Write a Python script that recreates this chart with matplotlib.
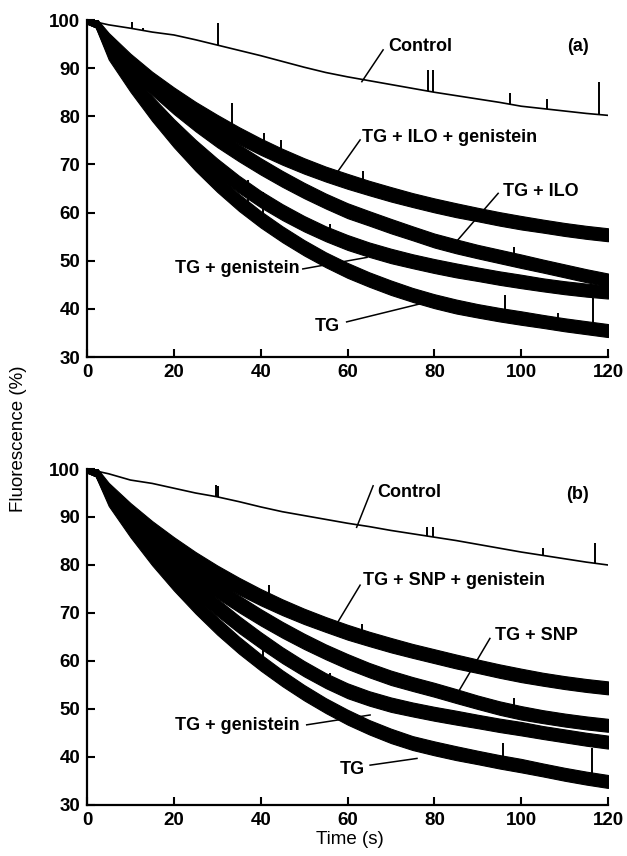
import numpy as np
import matplotlib
matplotlib.use("Agg")
import matplotlib.pyplot as plt

plt.rcParams["font.family"] = ["Liberation Sans", "DejaVu Sans"]

# time base (s) shared by every trace
t = [0, 2, 5, 10, 15, 20, 25, 30, 35, 40, 45, 50, 55, 60,
     65, 70, 75, 80, 85, 90, 95, 100, 105, 110, 115, 120]

# vertical thickness (%) of the noisy traces along t
band = [1.5, 2.0, 3.0, 3.4, 3.5, 3.6, 3.6, 3.6, 3.5, 3.4, 3.3, 3.2, 3.1, 3.1,
        3.0, 3.0, 2.9, 2.9, 2.9, 2.8, 2.8, 2.8, 2.7, 2.7, 2.7, 2.7]

# ---- panel (a) : fluorescence (%) ----
a_control = [100, 99.6, 99.0, 98.3, 97.5, 96.9, 95.9, 94.8, 93.7, 92.6, 91.4, 90.2, 89.1, 88.2,
             87.4, 86.6, 85.8, 85.0, 84.3, 83.6, 82.9, 82.1, 81.6, 81.1, 80.6, 80.2]
a_ilo_gen = [100, 99.5, 95.8, 91.3, 87.5, 84.2, 81.2, 78.5, 76.0, 73.7, 71.6, 69.7, 68.0, 66.5,
             65.1, 63.8, 62.6, 61.5, 60.5, 59.6, 58.7, 57.9, 57.2, 56.5, 55.9, 55.4]
a_ilo = [100, 99.5, 95.3, 90.5, 86.2, 82.3, 78.7, 75.4, 72.4, 69.6, 67.0, 64.6, 62.4, 60.4,
         58.8, 57.2, 55.7, 54.2, 53.0, 51.9, 50.9, 49.9, 48.9, 47.9, 46.9, 46.0]
a_gen = [100, 99.5, 93.8, 87.8, 82.4, 77.6, 73.3, 69.4, 65.9, 62.8, 60.1, 57.7, 55.6, 53.8,
         52.3, 51.0, 49.9, 48.9, 48.0, 47.2, 46.4, 45.7, 45.0, 44.4, 43.9, 43.5]
a_tg = [100, 99.5, 93.3, 86.8, 80.8, 75.4, 70.5, 66.1, 62.1, 58.6, 55.5, 52.7, 50.2, 48.0,
        46.1, 44.4, 42.9, 41.6, 40.5, 39.6, 38.8, 38.1, 37.4, 36.7, 36.1, 35.5]

# ---- panel (b) ----
b_control = [100, 99.6, 99.0, 97.7, 97.0, 96.0, 95.0, 94.2, 93.2, 92.1, 91.1, 90.3, 89.5, 88.7,
             88.0, 87.2, 86.5, 85.8, 85.1, 84.3, 83.5, 82.7, 82.0, 81.3, 80.6, 80.0]
b_snp_gen = [100, 99.5, 95.6, 91.2, 87.4, 84.0, 80.9, 78.1, 75.6, 73.3, 71.2, 69.3, 67.6, 66.0,
             64.6, 63.3, 62.1, 61.0, 59.9, 58.9, 57.9, 57.0, 56.2, 55.5, 54.9, 54.4]
b_snp = [100, 99.5, 95.0, 90.0, 85.7, 81.8, 78.2, 74.9, 71.9, 69.1, 66.5, 64.1, 61.9, 59.9,
         58.1, 56.5, 55.2, 54.0, 52.7, 51.4, 50.2, 49.2, 48.4, 47.7, 47.1, 46.6]
b_gen = [100, 99.5, 94.3, 88.6, 83.6, 79.1, 75.0, 71.2, 67.6, 64.3, 61.2, 58.4, 55.9, 53.8,
         52.2, 50.9, 49.9, 49.0, 48.2, 47.4, 46.6, 45.9, 45.1, 44.4, 43.7, 43.1]
b_tg = [100, 99.5, 93.8, 87.5, 81.7, 76.5, 71.7, 67.3, 63.3, 59.7, 56.4, 53.4, 50.7, 48.3,
        46.2, 44.4, 42.9, 41.8, 40.8, 39.9, 39.0, 38.2, 37.3, 36.4, 35.6, 34.9]

# spikes: time (s) and peak value (%) per trace
a_control_spk_t = [10.3, 13.0, 30.2, 78.6, 79.8, 97.4, 105.9, 117.9]
a_control_spk_y = [99.6, 98.4, 99.4, 89.6, 89.6, 84.8, 83.7, 87.2]
a_ilo_gen_spk_t = [33.5, 40.8, 44.7, 63.6]
a_ilo_gen_spk_y = [82.7, 76.5, 75.0, 68.6]
a_ilo_spk_t = [98.3]
a_ilo_spk_y = [52.9]
a_gen_spk_t = [56.0]
a_gen_spk_y = [57.6]
a_tg_spk_t = [37.1, 40.6, 96.3, 108.5, 116.6]
a_tg_spk_y = [66.8, 64.3, 42.9, 39.1, 42.2]

b_control_spk_t = [29.7, 30.2, 78.2, 79.8, 105.1, 117.0]
b_control_spk_y = [96.7, 96.5, 88.0, 88.0, 83.5, 84.5]
b_snp_gen_spk_t = [41.0, 42.0, 63.3]
b_snp_gen_spk_y = [74.2, 75.8, 67.8]
b_snp_spk_t = [84.0, 98.3]
b_snp_spk_y = [54.3, 52.3]
b_gen_spk_t = [56.0]
b_gen_spk_y = [57.5]
b_tg_spk_t = [40.6, 58.6, 95.9, 116.2]
b_tg_spk_y = [63.7, 50.2, 42.9, 41.9]

# labels: text, text x, text y, alignment, leader start, leader end
a_labels = [
    ("Control", 69.3, 94.4, "left", (68.2, 93.8), (63.3, 87.2)),
    ("TG + ILO + genistein", 63.3, 75.6, "left", (62.9, 75.1), (57.5, 68.2)),
    ("TG + ILO", 95.8, 64.4, "left", (94.7, 64.0), (85.1, 54.0)),
    ("TG + genistein", 49.0, 48.3, "right", (49.7, 48.3), (64.5, 50.7)),
    ("TG", 52.5, 36.4, "left", (59.8, 37.3), (77.4, 41.2)),
]
b_labels = [
    ("Control", 66.8, 95.1, "left", (65.9, 96.5), (62.1, 87.85)),
    ("TG + SNP + genistein", 63.6, 76.8, "left", (62.9, 75.8), (56.7, 66.5)),
    ("TG + SNP", 94.0, 65.3, "left", (92.8, 64.7), (85.1, 52.9)),
    ("TG + genistein", 49.0, 46.6, "right", (50.6, 46.7), (65.2, 48.75)),
    ("TG", 58.3, 37.4, "left", (65.2, 38.3), (76.0, 39.7)),
]


def draw_trace(ax, y, spk_t, spk_y, thick):
    y = np.asarray(y, dtype=float)
    if thick:
        half = np.asarray(band) / 2
        ax.fill_between(t, y - half, y + half, color="black", lw=0.8)
    else:
        ax.plot(t, y, color="black", lw=1.2)
    base = np.interp(spk_t, t, y)
    ax.vlines(spk_t, base, spk_y, color="black", lw=1.4)


def draw_panel(ax, traces, labels, tag):
    for y, st, sy, thick in traces:
        draw_trace(ax, y, st, sy, thick)
    for txt, x, yy, ha, p0, p1 in labels:
        ax.text(x, yy, txt, ha=ha, va="center", fontsize=13, fontweight="bold")
        ax.plot([p0[0], p1[0]], [p0[1], p1[1]], color="black", lw=1.1)
    ax.text(113, 94.6, tag, ha="center", va="center", fontsize=13,
            fontweight="bold")
    ax.set_xlim(0, 120)
    ax.set_ylim(30, 100)
    ax.set_xticks(range(0, 121, 20))
    ax.set_yticks(range(30, 101, 10))
    for s in ("top", "right"):
        ax.spines[s].set_visible(False)
    for s in ("left", "bottom"):
        ax.spines[s].set_linewidth(1.6)
    ax.tick_params(direction="in", length=6, width=1.5, labelsize=13.5, pad=5)
    for lab in ax.get_xticklabels() + ax.get_yticklabels():
        lab.set_fontweight("bold")


fig = plt.figure(figsize=(6.27, 8.56), dpi=100)
ax1 = fig.add_axes([0.1388, 0.5829, 0.8309, 0.3937])
ax2 = fig.add_axes([0.1388, 0.0596, 0.8309, 0.3925])

draw_panel(ax1, [
    (a_control, a_control_spk_t, a_control_spk_y, False),
    (a_ilo_gen, a_ilo_gen_spk_t, a_ilo_gen_spk_y, True),
    (a_ilo, a_ilo_spk_t, a_ilo_spk_y, True),
    (a_gen, a_gen_spk_t, a_gen_spk_y, True),
    (a_tg, a_tg_spk_t, a_tg_spk_y, True),
], a_labels, "(a)")

draw_panel(ax2, [
    (b_control, b_control_spk_t, b_control_spk_y, False),
    (b_snp_gen, b_snp_gen_spk_t, b_snp_gen_spk_y, True),
    (b_snp, b_snp_spk_t, b_snp_spk_y, True),
    (b_gen, b_gen_spk_t, b_gen_spk_y, True),
    (b_tg, b_tg_spk_t, b_tg_spk_y, True),
], b_labels, "(b)")

fig.text(0.029, 0.487, "Fluorescence (%)", rotation=90, ha="center",
         va="center", fontsize=13.5)
fig.text(0.558, 0.019, "Time (s)", ha="center", va="center", fontsize=13.5)

fig.savefig("out.png", dpi=100)
